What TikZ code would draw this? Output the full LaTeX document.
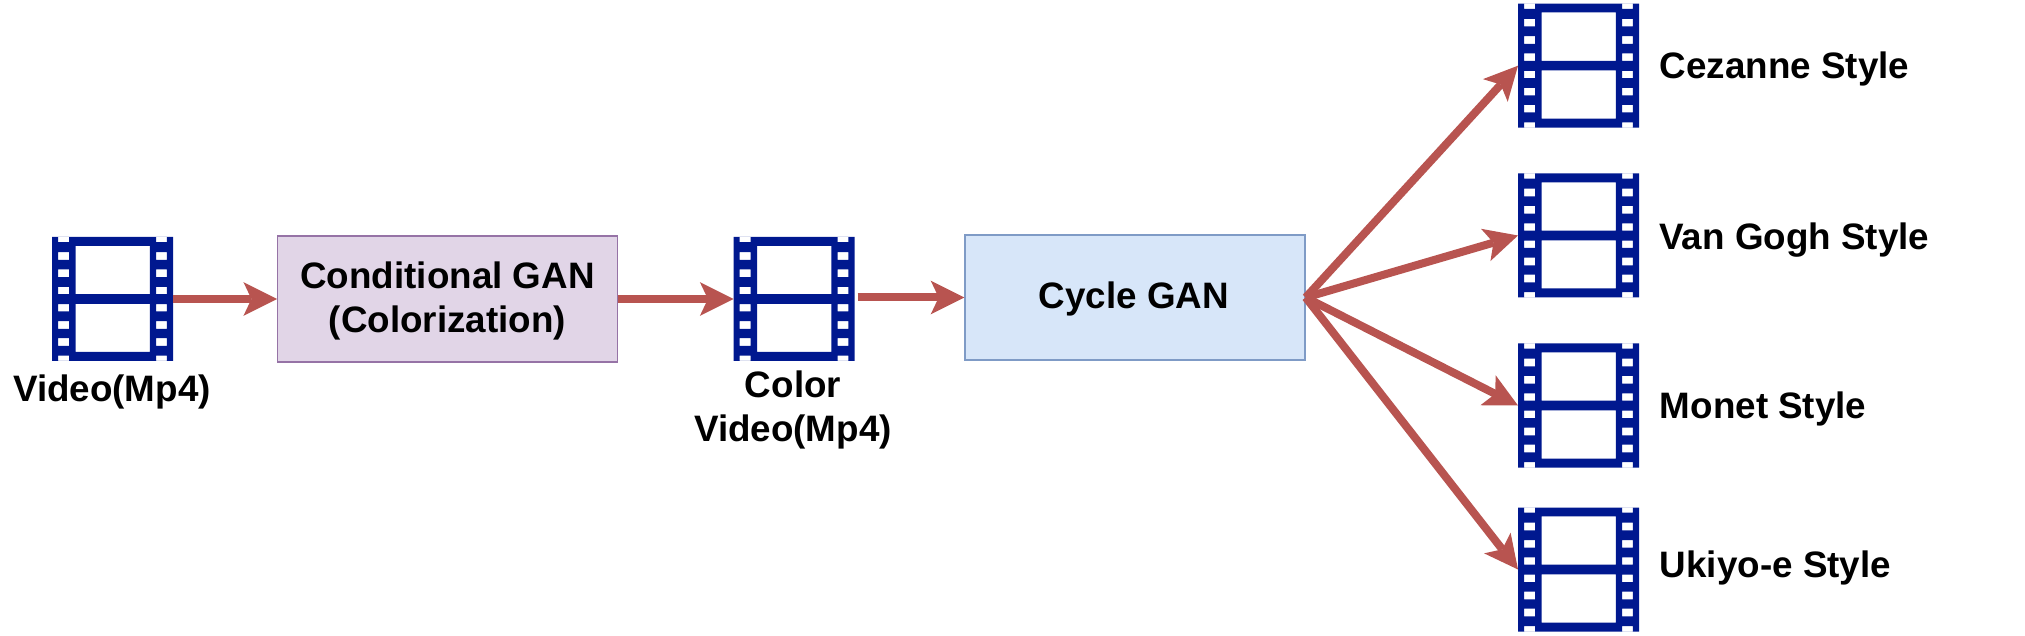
\documentclass[tikz,border=0pt]{standalone}
\usepackage{fontspec}
\setmainfont{Liberation Sans}
\usetikzlibrary{arrows.meta,calc}
\definecolor{filmblue}{HTML}{00188F}
\definecolor{arrowred}{HTML}{B85450}
\definecolor{purplefill}{HTML}{E1D5E7}
\definecolor{purpleline}{HTML}{9673A6}
\definecolor{bluefill}{HTML}{D7E6F9}
\definecolor{blueline}{HTML}{7F9BC6}
\newcommand{\filmicon}[2]{%
  \node[film] (#1) at (#2) {};
  \begin{scope}[shift={(#1.north west)}]
    \fill[filmblue,even odd rule]
      (0,0) rectangle (121,124)
      (23.5,8.8) rectangle (97.8,57.2)
      (23.5,66.8) rectangle (97.8,115)
      (6.2,0) rectangle (17.2,5.2)
      (104.2,0) rectangle (114.8,5.2)
      (6.2,118.7) rectangle (17.2,124)
      (104.2,118.7) rectangle (114.8,124)
      (6.2,15.2) rectangle (17.2,22.8)
      (6.2,32.5) rectangle (17.2,40.2)
      (6.2,49.8) rectangle (17.2,57.2)
      (6.2,67.2) rectangle (17.2,74.5)
      (6.2,84.2) rectangle (17.2,91.8)
      (6.2,101.2) rectangle (17.2,108.8)
      (104.2,15.2) rectangle (114.8,22.8)
      (104.2,32.5) rectangle (114.8,40.2)
      (104.2,49.8) rectangle (114.8,57.2)
      (104.2,67.2) rectangle (114.8,74.5)
      (104.2,84.2) rectangle (114.8,91.8)
      (104.2,101.2) rectangle (114.8,108.8);
  \end{scope}}
\tikzset{
  x=0.5pt,y=-0.5pt,
  film/.style={inner sep=0pt,outer sep=0pt,minimum width=60.5pt,minimum height=62pt},
  gan/.style={draw,line width=0.7pt,inner sep=0pt,minimum width=170pt},
  lbl/.style={inner sep=0pt,align=center,text=black,
    font=\fontsize{18.4}{22}\selectfont\bfseries},
  flow/.style={draw=arrowred,line width=4pt,
    -{Stealth[length=16.8pt,width=16.8pt,inset=4pt,line width=0pt,fill=arrowred]}}
}
\begin{document}
\begin{tikzpicture}
  \useasboundingbox (0,0) rectangle (2025,636);
  \filmicon{v1}{112.5,299}
  \filmicon{v2}{794,299}
  \filmicon{s1}{1578.5,65.7}
  \filmicon{s2}{1578.5,235.5}
  \filmicon{s3}{1578.5,405.5}
  \filmicon{s4}{1578.5,569.5}

  \node[gan,fill=purplefill,draw=purpleline,minimum height=63pt] (b1) at (447.75,299) {};
  \node[gan,fill=bluefill,draw=blueline,minimum height=62.5pt] (b2) at (1135,297.5) {};
  \node[lbl] (t1) at (447.5,301) {Conditional GAN\\(Colorization)};
  \node[lbl,anchor=base] (t2) at (1134,309) {Cycle GAN};

  \node[lbl,anchor=base] (l1) at (112,401) {Video(Mp4)};
  \node[lbl] (l2) at (793,410) {Color\\Video(Mp4)};
  \node[lbl,anchor=base west] (l3) at (1659.5,79) {Cezanne Style};
  \node[lbl,anchor=base west] (l4) at (1659,249.5) {Van Gogh Style};
  \node[lbl,anchor=base west] (l5) at (1659.5,418.5) {Monet Style};
  \node[lbl,anchor=base west] (l6) at (1659.5,577) {Ukiyo-e Style};

  \draw[flow] (v1.east) -- (b1.west);
  \draw[flow] (b1.east) -- (v2.west);
  \coordinate (v2out) at ($(v2.east)+(3,-1.5)$);
  \draw[flow] (v2out) -- (b2.west);
  \draw[flow] (b2.east) -- (s1.west);
  \draw[flow] (b2.east) -- (s2.west);
  \draw[flow] (b2.east) -- (s3.west);
  \draw[flow] (b2.east) -- (s4.west);
\end{tikzpicture}
\end{document}
